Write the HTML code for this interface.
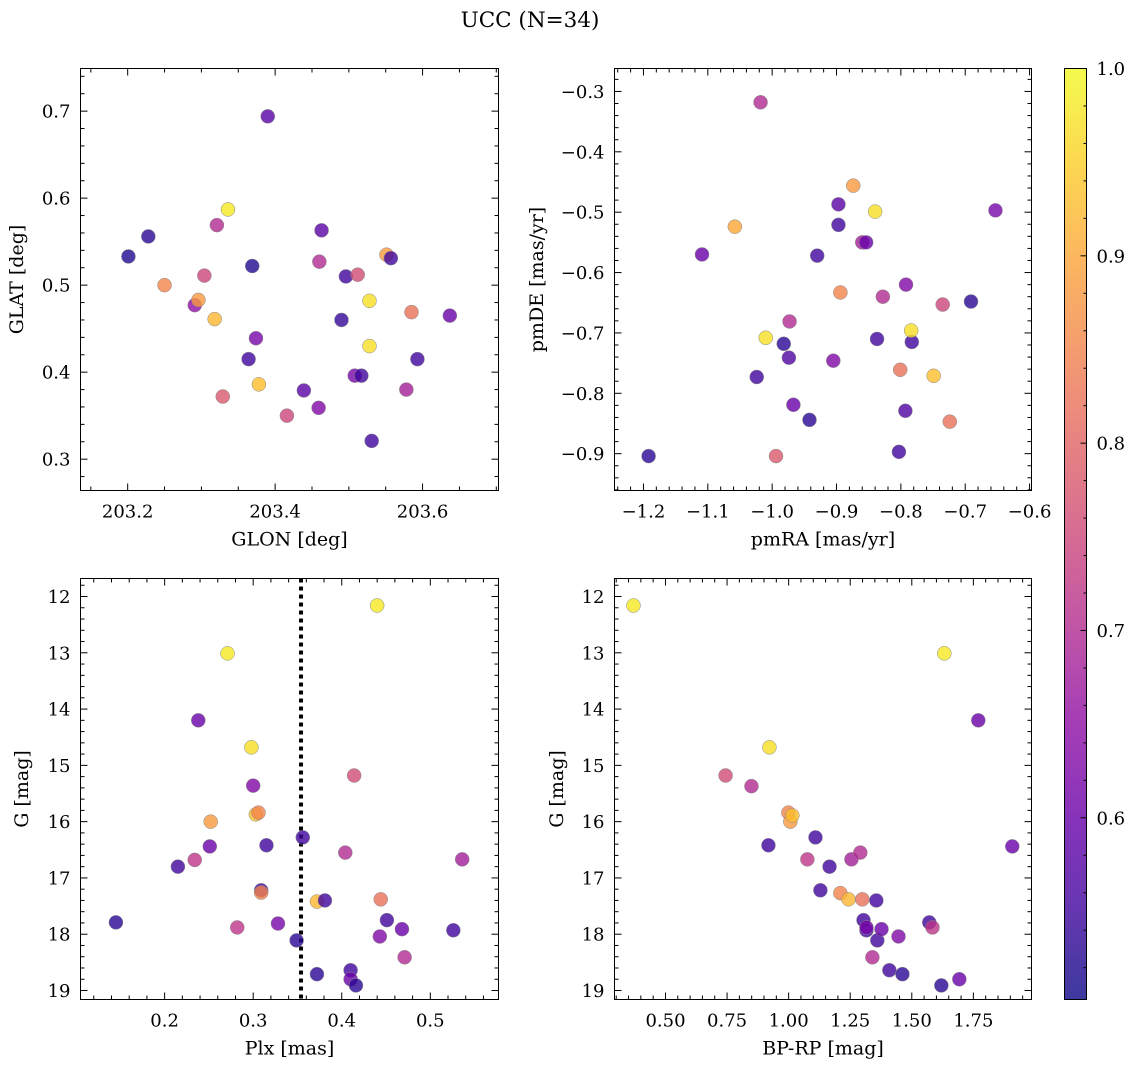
<!DOCTYPE html>
<html><head><meta charset="utf-8"><style>
html,body{margin:0;padding:0;background:#fff;}
svg{display:block;font-family:"DejaVu Serif","Liberation Serif",serif;}
</style></head><body>
<svg id="fig" width="1136" height="1067" viewBox="0 0 1136 1067">
<text x="530" y="27" text-anchor="middle" font-size="21.5">UCC (N=34)</text>
</svg>
<script>
// Panel 1: GLON vs GLAT
const glonX=[203.201,203.228,203.250,203.291,203.296,203.304,203.318,203.321,203.336,203.329,203.364,203.374,203.369,203.378,203.390,203.416,203.439,203.459,203.460,203.463,203.490,203.496,203.512,203.508,203.517,203.528,203.528,203.531,203.551,203.557,203.578,203.585,203.593,203.637];
const glatY=[0.533,0.556,0.500,0.477,0.483,0.511,0.461,0.569,0.587,0.372,0.415,0.439,0.522,0.386,0.694,0.350,0.379,0.359,0.527,0.563,0.460,0.510,0.512,0.396,0.396,0.482,0.430,0.321,0.535,0.531,0.380,0.469,0.415,0.465];
const glonP=[0.52,0.53,0.85,0.65,0.88,0.75,0.92,0.70,0.98,0.78,0.55,0.62,0.52,0.93,0.58,0.75,0.58,0.63,0.70,0.58,0.54,0.55,0.76,0.62,0.55,0.97,0.97,0.55,0.88,0.55,0.68,0.82,0.55,0.60];
// Panel 2: pmRA vs pmDE
const pmraX=[-1.192,-1.109,-1.058,-1.018,-1.010,-1.024,-0.982,-0.974,-0.973,-0.967,-0.994,-0.942,-0.930,-0.905,-0.897,-0.897,-0.894,-0.874,-0.840,-0.860,-0.854,-0.828,-0.837,-0.801,-0.792,-0.793,-0.783,-0.784,-0.803,-0.749,-0.735,-0.724,-0.691,-0.653];
const pmdeY=[-0.904,-0.570,-0.524,-0.318,-0.708,-0.773,-0.718,-0.741,-0.681,-0.819,-0.904,-0.844,-0.572,-0.746,-0.487,-0.521,-0.633,-0.456,-0.499,-0.550,-0.550,-0.640,-0.710,-0.761,-0.620,-0.829,-0.715,-0.696,-0.897,-0.771,-0.653,-0.847,-0.648,-0.497];
const pmP=[0.53,0.60,0.90,0.70,0.97,0.55,0.53,0.57,0.70,0.60,0.78,0.53,0.55,0.63,0.58,0.55,0.85,0.88,0.97,0.68,0.60,0.70,0.55,0.82,0.63,0.57,0.55,0.97,0.55,0.93,0.75,0.82,0.53,0.62];
// Panel 3: Plx vs G
const plxX=[0.145,0.215,0.234,0.238,0.251,0.252,0.271,0.282,0.298,0.300,0.303,0.306,0.309,0.309,0.315,0.328,0.349,0.356,0.372,0.372,0.381,0.404,0.410,0.410,0.416,0.414,0.440,0.444,0.443,0.451,0.468,0.471,0.526,0.536];
const plxG=[17.79,16.80,16.68,14.20,16.44,16.00,13.01,17.88,14.68,15.36,15.87,15.84,17.22,17.26,16.42,17.81,18.11,16.28,18.71,17.42,17.40,16.55,18.64,18.80,18.91,15.18,12.16,17.38,18.04,17.75,17.91,18.41,17.93,16.67];
const plxP=[0.53,0.55,0.72,0.60,0.60,0.88,0.98,0.72,0.97,0.63,0.93,0.85,0.55,0.85,0.55,0.62,0.53,0.55,0.53,0.92,0.55,0.70,0.55,0.60,0.53,0.76,0.98,0.82,0.63,0.55,0.60,0.70,0.55,0.68];
const plxCut=[0.354];
// Panel 4: BP-RP vs G
const bprpX=[0.370,0.744,0.849,0.922,0.918,0.999,1.007,1.015,1.076,1.109,1.129,1.166,1.210,1.243,1.255,1.291,1.299,1.356,1.304,1.316,1.316,1.340,1.360,1.377,1.409,1.446,1.462,1.571,1.584,1.632,1.620,1.693,1.770,1.908];
const bprpG=[12.16,15.18,15.37,14.68,16.42,15.84,16.00,15.89,16.67,16.28,17.22,16.80,17.27,17.38,16.67,16.55,17.38,17.40,17.75,17.93,17.88,18.41,18.11,17.91,18.64,18.04,18.71,17.79,17.88,13.01,18.91,18.80,14.20,16.44];
const bprpP=[0.98,0.76,0.70,0.97,0.55,0.85,0.88,0.93,0.72,0.55,0.55,0.55,0.85,0.92,0.68,0.70,0.82,0.55,0.55,0.55,0.62,0.70,0.55,0.60,0.55,0.63,0.53,0.55,0.72,0.98,0.53,0.60,0.60,0.60];
// Tick labels
const p1XTicks=[203.2,203.4,203.6];
const p1YTicks=[0.3,0.4,0.5,0.6,0.7];
const p2XTicks=[-1.2,-1.1,-1.0,-0.9,-0.8,-0.7,-0.6];
const p2YTicks=[-0.9,-0.8,-0.7,-0.6,-0.5,-0.4,-0.3];
const p3XTicks=[0.2,0.3,0.4,0.5];
const gTicks=[12,13,14,15,16,17,18,19];
const p4XTicks=[0.5,0.75,1.0,1.25,1.5,1.75];
const cbTicks=[0.6,0.7,0.8,0.9,1.0];
const cbMin=0.503, cbMax=1.0;

const NS='http://www.w3.org/2000/svg';
const svg=document.getElementById('fig');
function mk(tag,attrs,parent){const e=document.createElementNS(NS,tag);for(const k in attrs)e.setAttribute(k,attrs[k]);(parent||svg).appendChild(e);return e;}
const stops=['#0d0887','#41049d','#6a00a8','#8f0da4','#b12a90','#cc4778','#e16462','#f2844b','#fca636','#fcce25','#f0f921'];
function hex(c){return [parseInt(c.substr(1,2),16),parseInt(c.substr(3,2),16),parseInt(c.substr(5,2),16)];}
function plasma(t){t=Math.max(0,Math.min(1,t));const f=t*10,i=Math.min(9,Math.floor(f)),r=f-i;const a=hex(stops[i]),b=hex(stops[i+1]);return 'rgb('+a.map((v,k)=>Math.round(v+(b[k]-v)*r)).join(',')+')';}
function cm(p){return plasma((p-cbMin)/(cbMax-cbMin));}
function fmt(v,d){let s=v.toFixed(d);return s.replace('-','\u2212');}
const TF=18, LF=19;

function panel(o){
  const g=mk('g',{});
  
  
  const L=o.L,R=o.R,T=o.T,B=o.B;
  const sx=v=>L+(v-o.x0)/(o.x1-o.x0)*(R-L);
  const sy=o.inv?(v=>T+(v-o.y0)/(o.y1-o.y0)*(B-T)):(v=>B-(v-o.y0)/(o.y1-o.y0)*(B-T));
  const tk=mk('g',{stroke:'#000','stroke-width':1},g);
  
  
  const lo=Math.min(o.x0,o.x1),hi=Math.max(o.x0,o.x1);
  for(let v=Math.ceil(lo/o.xmin-1e-6)*o.xmin;v<=hi+1e-9;v+=o.xmin){const x=sx(v);const maj=Math.abs(v/o.xmaj-Math.round(v/o.xmaj))<1e-6;const l=maj?7:4;mk('line',{x1:x,y1:B,x2:x,y2:B-l},tk);mk('line',{x1:x,y1:T,x2:x,y2:T+l},tk);}
  const ylo=Math.min(o.y0,o.y1),yhi=Math.max(o.y0,o.y1);
  for(let v=Math.ceil(ylo/o.ymin-1e-6)*o.ymin;v<=yhi+1e-9;v+=o.ymin){const y=sy(v);const maj=Math.abs(v/o.ymaj-Math.round(v/o.ymaj))<1e-6;const l=maj?7:4;mk('line',{x1:L,y1:y,x2:L+l,y2:y},tk);mk('line',{x1:R,y1:y,x2:R-l,y2:y},tk);}
  o.xt.forEach(v=>{const t=mk('text',{x:sx(v),y:B+27,'text-anchor':'middle','font-size':TF},g);t.textContent=fmt(v,o.xd);});
  o.yt.forEach(v=>{const t=mk('text',{x:L-10,y:sy(v)+6.5,'text-anchor':'end','font-size':TF},g);t.textContent=fmt(v,o.yd);});
  const xl=mk('text',{x:(L+R)/2,y:B+55,'text-anchor':'middle','font-size':LF},g);xl.textContent=o.xlab;
  
  
  const yx=o.ylx,yy=(T+B)/2;
  const yl=mk('text',{x:yx,y:yy,'text-anchor':'middle','font-size':LF,transform:'rotate(-90 '+yx+' '+yy+')'},g);yl.textContent=o.ylab;
  
  
  if(o.vline!==undefined){const ln=mk('line',{x1:sx(o.vline),x2:sx(o.vline),y1:T,y2:B,stroke:'#000','stroke-width':4,'stroke-dasharray':'4 4'},g);}
  const pts=mk('g',{},g);
  
  
  o.xs.forEach((v,i)=>{const c=mk('circle',{cx:sx(v),cy:sy(o.ys[i]),r:7,fill:cm(o.ps[i]),'fill-opacity':0.8,stroke:'#888','stroke-width':0.5},pts);
    
    });
  const fr=mk('rect',{x:L,y:T,width:R-L,height:B-T,fill:'none',stroke:'#000','stroke-width':1},g);
  
  
}
panel({name:'glon-glat-panel',L:80.5,R:498.5,T:68.5,B:490.5,x0:203.136,x1:203.703,y0:0.264,y1:0.749,xmaj:0.2,xmin:0.05,ymaj:0.1,ymin:0.02,xt:p1XTicks,yt:p1YTicks,xd:1,yd:1,xs:glonX,ys:glatY,ps:glonP,xlab:'GLON [deg]',ylab:'GLAT [deg]',ylx:23});
panel({name:'pm-panel',L:614.5,R:1031.5,T:68.5,B:490.5,x0:-1.245,x1:-0.597,y0:-0.961,y1:-0.262,xmaj:0.1,xmin:0.02,ymaj:0.1,ymin:0.02,xt:p2XTicks,yt:p2YTicks,xd:1,yd:1,xs:pmraX,ys:pmdeY,ps:pmP,xlab:'pmRA [mas/yr]',ylab:'pmDE [mas/yr]',ylx:543});
panel({name:'plx-g-panel',L:80.5,R:498.5,T:578.5,B:999.5,x0:0.105,x1:0.577,y0:11.68,y1:19.16,inv:true,xmaj:0.1,xmin:0.02,ymaj:1,ymin:0.2,xt:p3XTicks,yt:gTicks,xd:1,yd:0,xs:plxX,ys:plxG,ps:plxP,xlab:'Plx [mas]',ylab:'G [mag]',ylx:28,vline:plxCut[0]});
panel({name:'cmd-panel',L:614.5,R:1031.5,T:578.5,B:999.5,x0:0.293,x1:1.986,y0:11.68,y1:19.16,inv:true,xmaj:0.25,xmin:0.05,ymaj:1,ymin:0.2,xt:p4XTicks,yt:gTicks,xd:2,yd:0,xs:bprpX,ys:bprpG,ps:bprpP,xlab:'BP-RP [mag]',ylab:'G [mag]',ylx:563});
// colorbar
const cb=mk('g',{});


const CL=1064.5,CR=1086.5,CT=68.5,CB=999.5;
const defs=mk('defs',{},cb);
const lg=mk('linearGradient',{id:'cbg',x1:0,y1:1,x2:0,y2:0},defs);
for(let i=0;i<=20;i++)mk('stop',{offset:i/20,'stop-color':plasma(i/20),'stop-opacity':0.8},lg);
mk('rect',{x:CL,y:CT,width:CR-CL,height:CB-CT,fill:'url(#cbg)'},cb);
const cy=v=>CB-(v-cbMin)/(cbMax-cbMin)*(CB-CT);
for(let v=0.52;v<=1.0001;v+=0.02){const y=cy(v);const maj=Math.abs(v*10-Math.round(v*10))<1e-6;mk('line',{x1:CR,x2:CR-(maj?6:3),y1:y,y2:y,stroke:'#000'},cb);}
cbTicks.forEach(v=>{const t=mk('text',{x:CR+10,y:cy(v)+6.5,'font-size':TF},cb);t.textContent=v.toFixed(1);});
mk('rect',{x:CL,y:CT,width:CR-CL,height:CB-CT,fill:'none',stroke:'#000'},cb);
</script>
</body></html>
